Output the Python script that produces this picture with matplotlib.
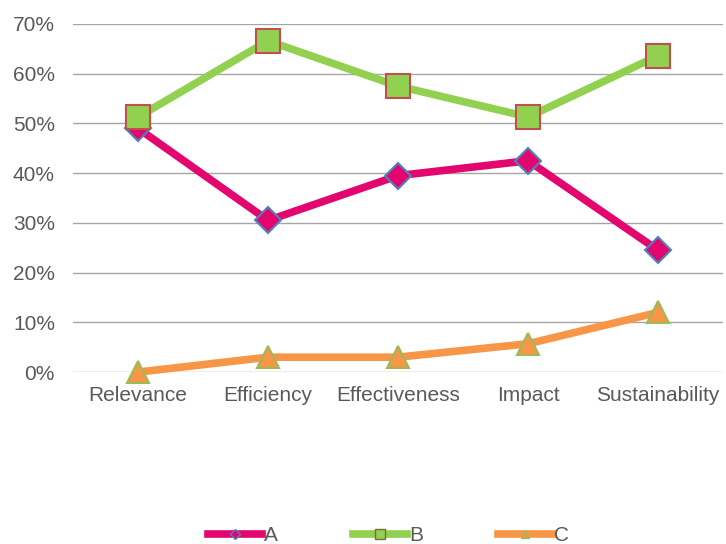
import matplotlib.pyplot as plt
from matplotlib.lines import Line2D
from matplotlib.ticker import PercentFormatter

# Données
categories = ["Relevance", "Efficiency", "Effectiveness", "Impact", "Sustainability"]
serie_a = [0.49, 0.305, 0.395, 0.425, 0.245]
serie_b = [0.513, 0.666, 0.575, 0.513, 0.636]
serie_c = [0.0, 0.03, 0.03, 0.057, 0.12]

plt.rcParams["font.family"] = ["Liberation Sans", "DejaVu Sans"]

fig = plt.figure(figsize=(7.26, 5.44), dpi=100)
ax = fig.add_axes([0.1006, 0.316, 0.8954, 0.640])

x = range(len(categories))

ax.plot(x, serie_a, color="#E2066E", linewidth=5.5, marker="D",
        markersize=13, markerfacecolor="#E2066E", markeredgecolor="#4F81BD",
        markeredgewidth=1.5, clip_on=False, zorder=3)
ax.plot(x, serie_b, color="#92D050", linewidth=5.5, marker="s",
        markersize=17, markerfacecolor="#92D050", markeredgecolor="#C0504D",
        markeredgewidth=1.5, clip_on=False, zorder=4)
ax.plot(x, serie_c, color="#F79646", linewidth=5.5, marker="^",
        markersize=16, markerfacecolor="#F79646", markeredgecolor="#9BBB59",
        markeredgewidth=1.5, clip_on=False, zorder=3)

ax.set_xlim(-0.5, 4.5)
ax.set_ylim(0, 0.7)
ax.set_yticks([i / 10 for i in range(8)])
ax.yaxis.set_major_formatter(PercentFormatter(1.0, decimals=0))
ax.set_xticks(list(x))
ax.set_xticklabels(categories)
ax.tick_params(length=0, labelsize=15, colors="#595959")
ax.tick_params(axis="y", pad=13)
ax.tick_params(axis="x", pad=10)
ax.grid(axis="y", color="#A6A6A6", linewidth=1)
ax.set_axisbelow(True)
for s in ax.spines.values():
    s.set_visible(False)

poignees = [
    Line2D([], [], color="#E2066E", linewidth=5.5, marker="D", markersize=5,
           markerfacecolor="#E2066E", markeredgecolor="#4F81BD"),
    Line2D([], [], color="#92D050", linewidth=5.5, marker="s", markersize=7,
           markerfacecolor="#92D050", markeredgecolor="#7F6A3A"),
    Line2D([], [], color="#F79646", linewidth=5.5, marker="^", markersize=6,
           markerfacecolor="#F79646", markeredgecolor="#9BBB59"),
]
leg = fig.legend(poignees, ["A", "B", "C"], loc="center", ncol=3,
                 bbox_to_anchor=(0.535, 0.015), frameon=False,
                 handlelength=2.6, handletextpad=0.1, columnspacing=3.6,
                 fontsize=15)
for t in leg.get_texts():
    t.set_color("#595959")

fig.savefig("out.png", dpi=100, facecolor="white")
